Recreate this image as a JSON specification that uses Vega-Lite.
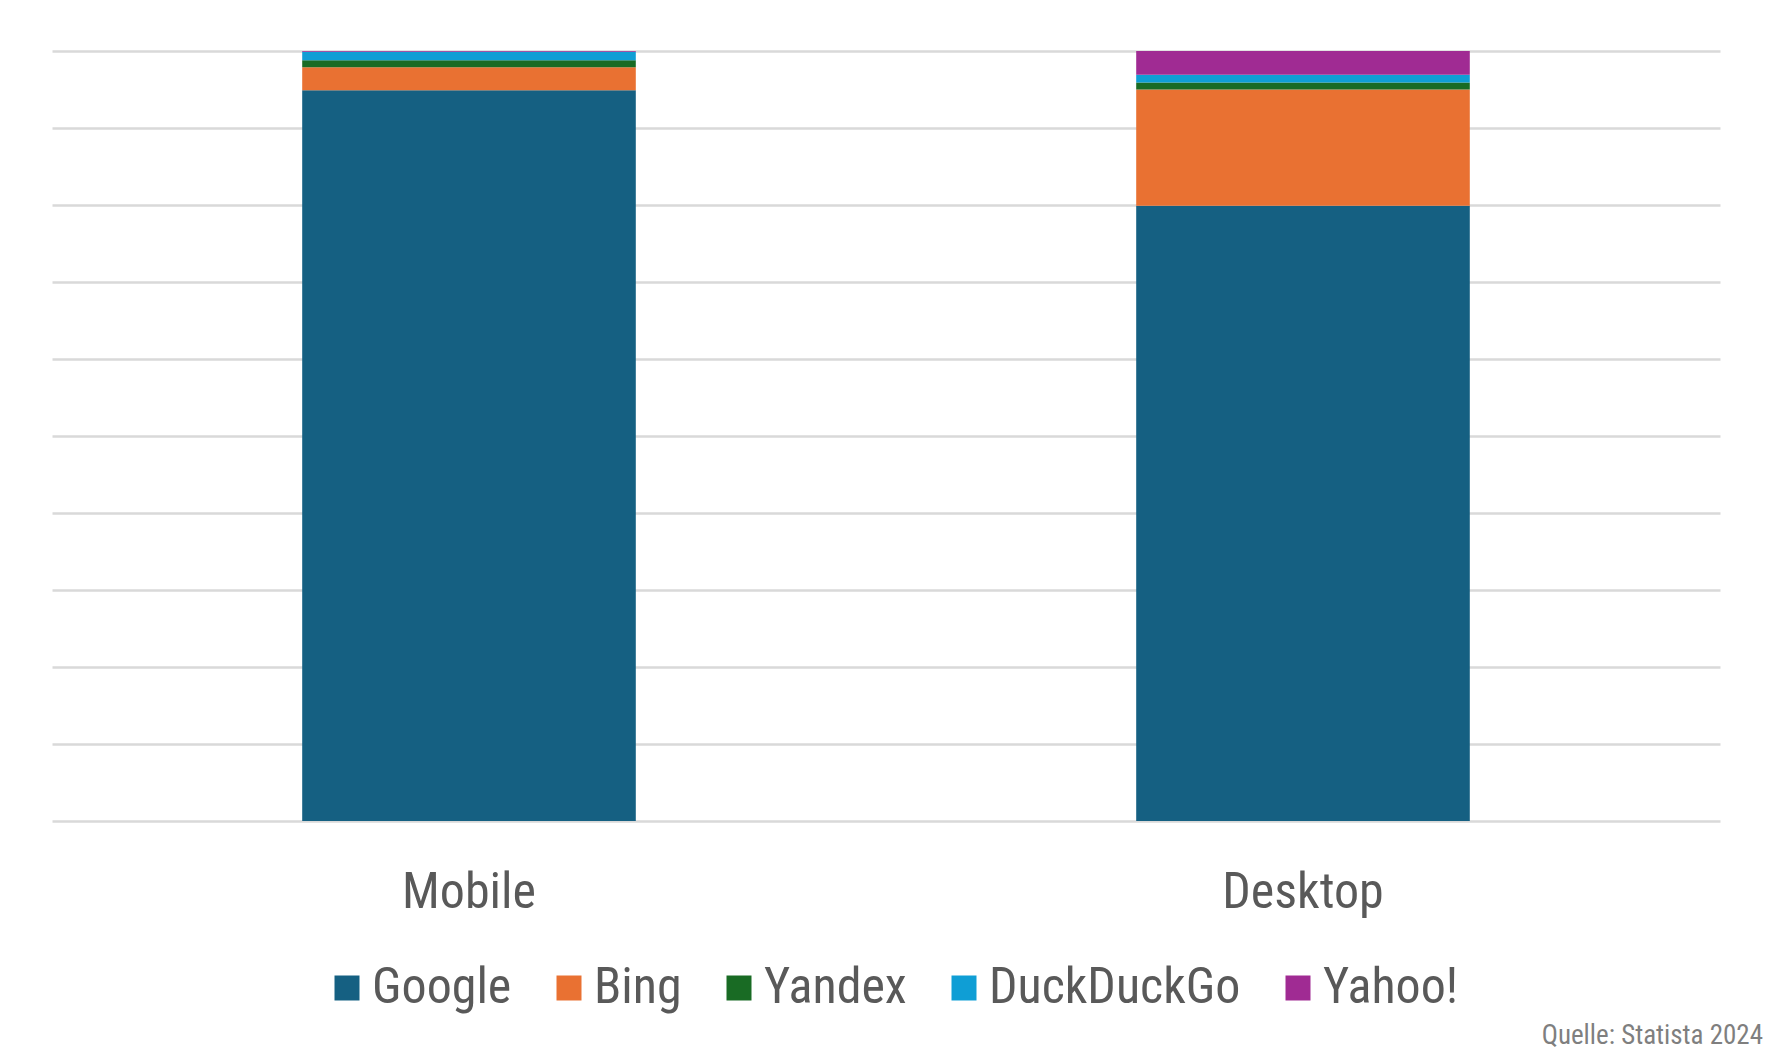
{
  "$schema": "https://vega.github.io/schema/vega-lite/v6.json",
  "autosize": "none",
  "width": 1668,
  "height": 770,
  "padding": {"left": 52, "top": 51, "right": 52, "bottom": 239},
  "background": "white",
  "data": {
    "values": [
      {"device": "Mobile", "engine": "Google", "share": 94.9},
      {"device": "Mobile", "engine": "Bing", "share": 3.0},
      {"device": "Mobile", "engine": "Yandex", "share": 0.9},
      {"device": "Mobile", "engine": "DuckDuckGo", "share": 1.1},
      {"device": "Mobile", "engine": "Yahoo!", "share": 0.1},
      {"device": "Desktop", "engine": "Google", "share": 79.9},
      {"device": "Desktop", "engine": "Bing", "share": 15.1},
      {"device": "Desktop", "engine": "Yandex", "share": 0.9},
      {"device": "Desktop", "engine": "DuckDuckGo", "share": 1.0},
      {"device": "Desktop", "engine": "Yahoo!", "share": 3.1}
    ]
  },
  "transform": [
    {"calculate": "indexof(['Google', 'Bing', 'Yandex', 'DuckDuckGo', 'Yahoo!'], datum.engine)", "as": "stackOrder"}
  ],
  "title": {
    "text": "Quelle: Statista 2024",
    "orient": "bottom",
    "anchor": "end",
    "frame": "group",
    "font": "Liberation Sans Narrow, Arial Narrow, Roboto Condensed, DejaVu Sans Condensed, Liberation Sans, sans-serif",
    "fontSize": 27,
    "fontWeight": "normal",
    "color": "#7f7f7f",
    "offset": 10,
    "dx": 43
  },
  "mark": {"type": "bar"},
  "encoding": {
    "x": {
      "field": "device",
      "type": "nominal",
      "sort": ["Mobile", "Desktop"],
      "scale": {"paddingInner": 0.6, "paddingOuter": 0.3},
      "axis": {
        "title": null,
        "domain": false,
        "ticks": false,
        "labelAngle": 0,
        "labelFont": "Liberation Sans Narrow, Arial Narrow, Roboto Condensed, DejaVu Sans Condensed, Liberation Sans, sans-serif",
        "labelFontSize": 50,
        "labelColor": "#595959",
        "labelBaseline": "alphabetic",
        "labelPadding": 86
      }
    },
    "y": {
      "field": "share",
      "type": "quantitative",
      "aggregate": "sum",
      "stack": "zero",
      "scale": {"domain": [0, 100], "nice": false},
      "axis": {
        "title": null,
        "labels": false,
        "ticks": false,
        "domain": false,
        "grid": true,
        "values": [0, 10, 20, 30, 40, 50, 60, 70, 80, 90, 100],
        "gridColor": "#d9d9d9",
        "gridWidth": 2.5
      }
    },
    "order": {"field": "stackOrder", "type": "quantitative", "sort": "ascending"},
    "color": {
      "field": "engine",
      "type": "nominal",
      "scale": {
        "domain": ["Google", "Bing", "Yandex", "DuckDuckGo", "Yahoo!"],
        "range": ["#156082", "#E97132", "#196B24", "#0F9ED5", "#A02B93"]
      },
      "legend": {
        "title": null,
        "orient": "none",
        "direction": "horizontal",
        "legendX": 270,
        "legendY": 912,
        "symbolType": "square",
        "symbolSize": 625,
        "symbolStrokeWidth": 0,
        "symbolOpacity": 1,
        "labelFont": "Liberation Sans Narrow, Arial Narrow, Roboto Condensed, DejaVu Sans Condensed, Liberation Sans, sans-serif",
        "labelFontSize": 50,
        "labelColor": "#595959",
        "labelOffset": 0,
        "columnPadding": 32,
        "labelLimit": 400
      }
    }
  },
  "config": {
    "view": {"stroke": null}
  }
}
